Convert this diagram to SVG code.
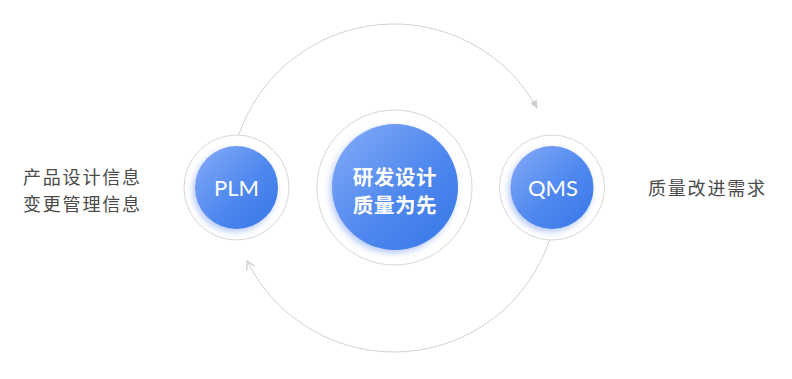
<svg xmlns="http://www.w3.org/2000/svg" width="792" height="379" viewBox="0 0 792 379">
<defs>
<linearGradient id="blue" x1="0" y1="0" x2="1" y2="1">
<stop offset="0" stop-color="#86abf9"/>
<stop offset="0.55" stop-color="#4f88ee"/>
<stop offset="1" stop-color="#3677e8"/>
</linearGradient>
<filter id="glow" x="-30%" y="-30%" width="160%" height="160%">
<feDropShadow dx="-2" dy="3" stdDeviation="3" flood-color="#5b83f0" flood-opacity="0.45"/>
</filter>
<marker id="tri" markerUnits="userSpaceOnUse" markerWidth="12" markerHeight="12" refX="0" refY="0" orient="auto" viewBox="-10 -6 12 12" overflow="visible">
<path d="M0,0 L-8,-3.6 L-8,3.6 Z" fill="#cccccc"/>
</marker>
<marker id="chev" markerUnits="userSpaceOnUse" markerWidth="12" markerHeight="12" refX="0" refY="0" orient="auto" viewBox="-10 -6 12 12" overflow="visible">
<path d="M-8,-4.5 L0,0 L-8,4.5" fill="none" stroke="#cccccc" stroke-width="1.2"/>
</marker>
</defs>
<style>
.ring{fill:#fff;stroke:#d6d6d6;stroke-width:1}
.core{fill:url(#blue);filter:url(#glow)}
.lat{font-family:Lato,"Liberation Sans",sans-serif;font-size:22px;fill:#fff;text-anchor:middle}
.cjkw{font-family:"Noto Sans CJK SC",sans-serif;font-size:20.5px;font-weight:bold;fill:#fff;text-anchor:middle;letter-spacing:0.6px}
.side{font-family:"Noto Sans CJK SC",sans-serif;font-size:18px;fill:#4a4a4a;letter-spacing:1.8px}
.conn{fill:none;stroke:#d2d2d2;stroke-width:1}
</style>
<g id="connectors">
<path class="conn" d="M238.9,134.6 A164,164 0 0 1 537.4,108.5" marker-end="url(#tri)"/>
<path class="conn" d="M549.5,240 A164,164 0 0 1 247.2,261.2" marker-end="url(#chev)"/>
</g>
<g id="plm">
<circle class="ring" cx="236.5" cy="187.5" r="52.5"/>
<circle class="core" cx="236.5" cy="187.5" r="41.5"/>
<text class="lat" x="236.5" y="196">PLM</text>
</g>
<g id="center">
<circle class="ring" cx="394.5" cy="187.5" r="77.5"/>
<circle class="core" cx="395" cy="187" r="63"/>
<text class="cjkw" x="395" y="175.5" dominant-baseline="central">研发设计</text>
<text class="cjkw" x="395" y="203.5" dominant-baseline="central">质量为先</text>
</g>
<g id="qms">
<circle class="ring" cx="552" cy="187.5" r="52.5"/>
<circle class="core" cx="552" cy="187.5" r="41.5"/>
<text class="lat" x="553" y="196">QMS</text>
</g>
<g id="left-label">
<text class="side" x="23" y="183.5">产品设计信息</text>
<text class="side" x="23" y="210.5">变更管理信息</text>
</g>
<g id="right-label">
<text class="side" x="648" y="194.5">质量改进需求</text>
</g>
</svg>
